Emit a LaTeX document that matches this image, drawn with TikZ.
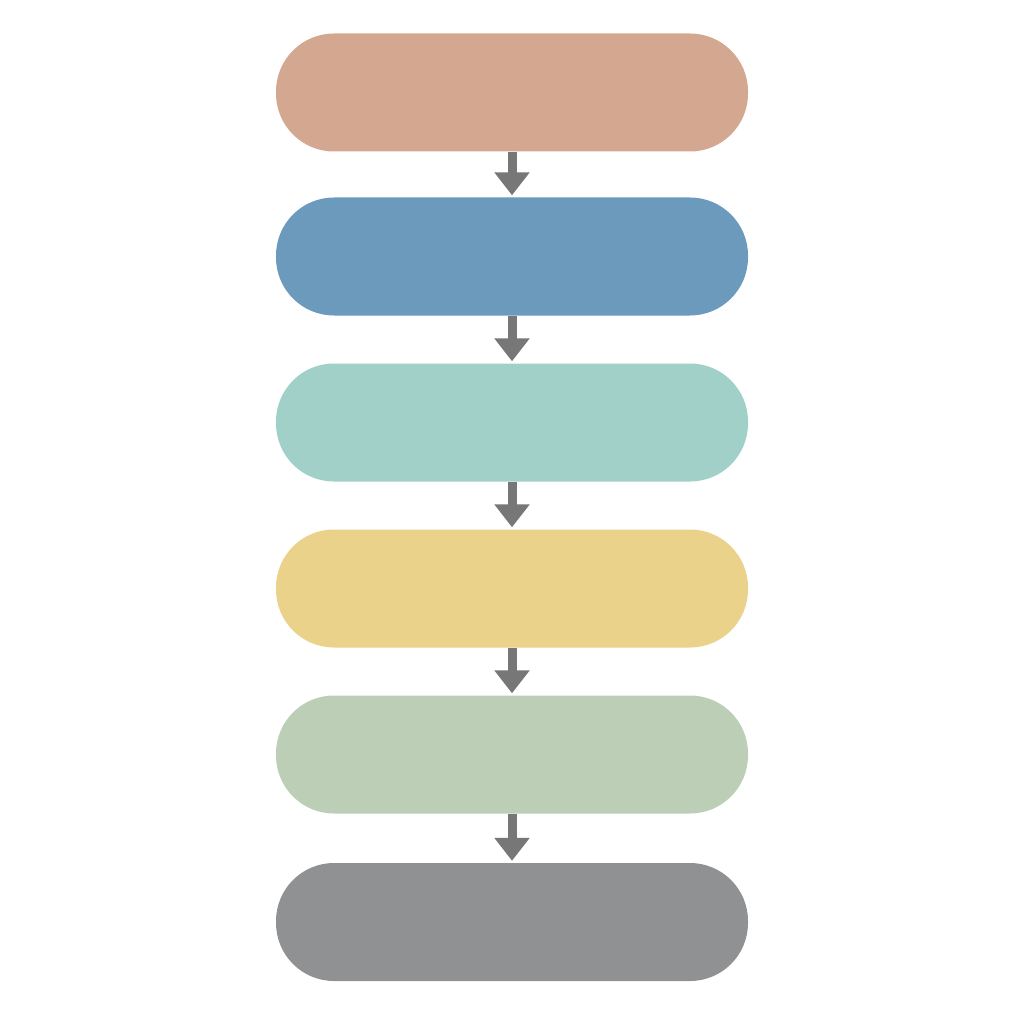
\documentclass[tikz,border=0pt]{standalone}
\usetikzlibrary{arrows.meta}
\definecolor{cA}{HTML}{D4A890}
\definecolor{cB}{HTML}{6B9ABD}
\definecolor{cC}{HTML}{A0D0C8}
\definecolor{cD}{HTML}{EAD28A}
\definecolor{cE}{HTML}{BCCFB6}
\definecolor{cF}{HTML}{909192}
\definecolor{arrowgray}{HTML}{777777}
\tikzset{
  pill/.style={rectangle, rounded corners=58pt, minimum width=472pt, minimum height=118pt, draw=none, inner sep=0pt},
  flow/.style={draw=arrowgray, line width=9pt, -{Triangle[width=34pt,length=23pt]}, shorten >=2pt}
}
\begin{document}
\begin{tikzpicture}[x=1pt,y=-1pt]
\useasboundingbox (0,0) rectangle (1024,1024);
\fill[white] (0,0) rectangle (1024,1024);
\node[pill, fill=cA] (b1) at (512,92.5) {};
\node[pill, fill=cB] (b2) at (512,256.5) {};
\node[pill, fill=cC] (b3) at (512,422.5) {};
\node[pill, fill=cD] (b4) at (512,588.5) {};
\node[pill, fill=cE] (b5) at (512,754.5) {};
\node[pill, fill=cF] (b6) at (512,922) {};
\draw[flow] (b1.south) -- (b2.north);
\draw[flow] (b2.south) -- (b3.north);
\draw[flow] (b3.south) -- (b4.north);
\draw[flow] (b4.south) -- (b5.north);
\draw[flow] (b5.south) -- (b6.north);
\end{tikzpicture}
\end{document}
